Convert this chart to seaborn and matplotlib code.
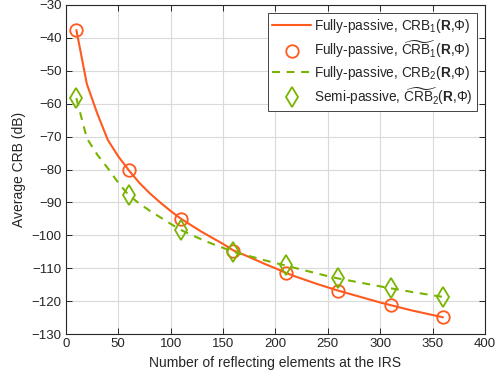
import matplotlib
matplotlib.use("Agg")
import matplotlib.pyplot as plt
import numpy as np
import pandas as pd
import seaborn as sns

# Curves sampled every 10 elements
n_line = list(range(10, 361, 10))
crb1_line = [-37.6, -54.0, -63.0, -71.0, -76.0, -80.2, -84.0, -87.2, -90.0, -92.6,
             -95.0, -97.0, -99.0, -100.8, -102.6, -104.6, -105.9, -107.3, -108.7, -110.0,
             -111.4, -112.6, -113.7, -114.8, -115.8, -116.8, -117.7, -118.6, -119.5, -120.4,
             -121.2, -122.0, -122.8, -123.5, -124.2, -124.9]
crb2_line = [-58.3, -70.5, -75.5, -79.6, -84.0, -87.8, -90.3, -92.5, -94.5, -96.5,
             -98.4, -99.9, -101.3, -102.6, -103.8, -105.0, -105.9, -106.7, -107.6, -108.4,
             -109.2, -110.0, -110.8, -111.6, -112.4, -113.1, -113.7, -114.3, -114.9, -115.5,
             -116.1, -116.6, -117.2, -117.7, -118.2, -118.7]

# Markers every 50 elements
n_mark = [10, 60, 110, 160, 210, 260, 310, 360]
crb1_mark = [-37.6, -80.2, -95.0, -104.8, -111.5, -116.8, -121.2, -124.9]
crb2_mark = [-58.3, -87.8, -98.4, -105.0, -109.1, -113.1, -116.1, -118.7]

labels = [
    r'Fully-passive, CRB$_1$($\mathbf{R}$,$\Phi$)',
    r'Fully-passive, $\widetilde{\mathrm{CRB}}_1$($\mathbf{R}$,$\Phi$)',
    r'Fully-passive, CRB$_2$($\mathbf{R}$,$\Phi$)',
    r'Semi-passive, $\widetilde{\mathrm{CRB}}_2$($\mathbf{R}$,$\Phi$)',
]

orange = '#FF5A1E'
green = '#78B400'

sns.set_style("white")
plt.rcParams['font.family'] = ['Liberation Sans', 'DejaVu Sans']
plt.rcParams['mathtext.fontset'] = 'custom'
plt.rcParams['mathtext.rm'] = 'Liberation Sans'
plt.rcParams['mathtext.it'] = 'Liberation Sans:italic'
plt.rcParams['mathtext.bf'] = 'Liberation Sans:bold'
plt.rcParams['xtick.major.size'] = 4
plt.rcParams['ytick.major.size'] = 4

df_line = pd.DataFrame({'N': n_line, 'crb1': crb1_line, 'crb2': crb2_line})
df_mark = pd.DataFrame({'N': n_mark, 'crb1': crb1_mark, 'crb2': crb2_mark})

fig = plt.figure(figsize=(5.03, 3.84), dpi=100)
ax = fig.add_axes([0.131, 0.130, 0.833, 0.857])

sns.lineplot(data=df_line, x='N', y='crb1', ax=ax, color=orange, linewidth=1.5,
             label=labels[0])
sns.lineplot(data=df_mark, x='N', y='crb1', ax=ax, linestyle='none', marker='o',
             markersize=9, markerfacecolor='none', markeredgecolor=orange,
             markeredgewidth=1.3, color=orange, label=labels[1])
sns.lineplot(data=df_line, x='N', y='crb2', ax=ax, color=green, linewidth=1.5,
             linestyle=(0, (3.8, 3.2)), label=labels[2])
sns.lineplot(data=df_mark, x='N', y='crb2', ax=ax, linestyle='none', marker='d',
             markersize=10, markerfacecolor='none', markeredgecolor=green,
             markeredgewidth=1.3, color=green, label=labels[3])

ax.set_xlim(0, 400)
ax.set_ylim(-130, -30)
ax.set_xticks(np.arange(0, 401, 50))
ax.set_yticks(np.arange(-130, -29, 10))
ax.grid(True, color='#DADADA', linewidth=0.8)
ax.set_axisbelow(True)
for s in ax.spines.values():
    s.set_color('#262626')
    s.set_linewidth(0.8)
ax.tick_params(direction='in', length=4, width=0.7, color='#262626',
               labelcolor='#262626', labelsize=9.5,
               bottom=True, left=True, top=True, right=True, pad=3)
ax.set_xlabel('Number of reflecting elements at the IRS', fontsize=10, color='#262626')
ax.set_ylabel('Average CRB (dB)', fontsize=10, color='#262626')

leg = ax.legend(loc='upper right', fontsize=9.8, frameon=True, fancybox=False,
                edgecolor='#262626', framealpha=1, borderaxespad=0.6,
                handlelength=2.85, labelspacing=0.25, borderpad=0.3,
                handletextpad=0.2)
leg.get_frame().set_linewidth(0.6)

fig.savefig('out.png', dpi=100)
